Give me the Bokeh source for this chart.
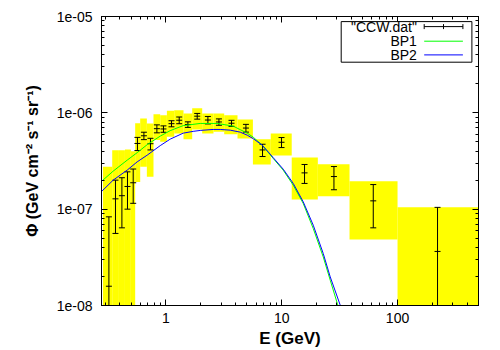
import numpy as np
from bokeh.plotting import figure
from bokeh.models import (LogAxis, LogTicker, CustomJSTickFormatter, Label, Arrow,
                          BoxAnnotation, ColumnDataSource, Range1d)
from bokeh.embed import file_html
from bokeh.resources import INLINE

# ---- data ----
energy = [0.322, 0.367, 0.417, 0.466, 0.522, 0.568, 0.646, 0.736, 0.836, 0.953, 1.118, 1.303,
          1.549, 1.864, 2.305, 2.87, 3.686, 4.909, 6.83, 9.96, 15.74, 28.24, 61.7, 221.5]
flux = [1.585e-8, 1.28e-7, 1.38e-7, 1.72e-7, 1.88e-7, 4.81e-7, 5.78e-7, 4.78e-7, 6.85e-7, 6.8e-7,
        7.72e-7, 8.38e-7, 7.56e-7, 9.23e-7, 8.42e-7, 8.04e-7, 7.8e-7, 6.95e-7, 4.12e-7, 4.95e-7,
        2.38e-7, 2.18e-7, 1.22e-7, 3.64e-8]
flux_err = [6.74e-8, 7.2e-8, 7.4e-8, 7.2e-8, 7.3e-8, 7.5e-8, 5.1e-8, 6.6e-8, 6.5e-8, 5.2e-8,
            5.6e-8, 6.7e-8, 5.0e-8, 6.3e-8, 7.5e-8, 6.1e-8, 5.6e-8, 6.4e-8, 6.0e-8, 5.9e-8,
            5.3e-8, 5.9e-8, 5.8e-8, 6.8e-8]
bin_lo = [0.286, 0.344, 0.393, 0.443, 0.4985, 0.543, 0.600, 0.685, 0.7815, 0.893, 1.02, 1.18,
          1.419, 1.687, 2.058, 2.576, 3.187, 4.153, 5.64, 8.04, 12.2, 20.5, 38.5, 100]
bin_hi = [0.344, 0.393, 0.443, 0.4985, 0.543, 0.600, 0.685, 0.7815, 0.893, 1.02, 1.18, 1.419,
          1.687, 2.058, 2.576, 3.187, 4.153, 5.64, 8.04, 12.2, 20.5, 38.5, 100, 500]
sys_lo = [1e-9, 1e-9, 1e-9, 1e-9, 1e-9, 1.92e-7, 2.75e-7, 2.165e-7, 5.21e-7, 5.00e-7, 5.63e-7,
          6.11e-7, 5.33e-7, 6.72e-7, 6.11e-7, 6.35e-7, 6.01e-7, 5.40e-7, 2.90e-7, 3.61e-7,
          1.261e-7, 1.365e-7, 4.84e-8, 1e-9]
sys_hi = [2.75e-7, 4.10e-7, 4.10e-7, 4.17e-7, 4.0e-7, 7.8e-7, 8.74e-7, 7.76e-7, 9.69e-7, 9.46e-7,
          1.049e-6, 1.066e-6, 9.86e-7, 1.119e-6, 9.86e-7, 9.86e-7, 9.46e-7, 8.54e-7, 5.33e-7,
          6.11e-7, 3.44e-7, 2.93e-7, 1.953e-7, 1.049e-7]

bp1_E = [0.2762, 0.3506, 0.4632, 0.5651, 0.6895, 0.893, 1.089, 1.411, 1.978, 2.773, 3.813, 4.381,
         5.036, 5.674, 6.785, 8.445, 10.30, 12.57, 15.34, 18.71, 22.82, 26.23, 30.16, 33.3]
bp1_flux = [1.930e-7, 2.481e-7, 3.227e-7, 3.861e-7, 4.674e-7, 5.728e-7, 6.533e-7, 7.364e-7,
            7.761e-7, 7.761e-7, 7.276e-7, 6.690e-7, 6.154e-7, 5.593e-7, 4.618e-7, 3.361e-7,
            2.541e-7, 1.775e-7, 1.146e-7, 6.302e-8, 3.197e-8, 1.831e-8, 1.056e-8, 7.04e-9]
bp2_E = [0.2762, 0.3506, 0.4632, 0.5651, 0.6895, 0.893, 1.089, 1.411, 1.721, 1.978, 2.561, 2.944,
         3.592, 4.381, 5.036, 5.674, 6.785, 7.956, 8.445, 10.30, 12.57, 15.34, 18.71, 22.82,
         26.23, 32.01, 35.35]
bp2_flux = [1.512e-7, 2.000e-7, 2.541e-7, 3.099e-7, 3.637e-7, 4.564e-7, 5.331e-7, 6.154e-7,
            6.424e-7, 6.564e-7, 6.723e-7, 6.723e-7, 6.612e-7, 6.302e-7, 5.867e-7, 5.396e-7,
            4.618e-7, 3.725e-7, 3.425e-7, 2.602e-7, 1.849e-7, 1.191e-7, 6.822e-8, 3.467e-8,
            1.982e-8, 1.007e-8, 7.04e-9]

legend_labels = ['"CCW.dat"', "BP1", "BP2"]
x_label = "E (GeV)"
y_label = "\u03a6 (GeV cm\u207b\u00b2 s\u207b\u00b9 sr\u207b\u00b9)"

# ---- figure ----
FONT = "Liberation Sans"
p = figure(width=500, height=350, x_axis_type="log", y_axis_type="log",
           x_range=Range1d(0.278, 500), y_range=Range1d(1e-8, 1e-5),
           output_backend="svg", toolbar_location=None,
           min_border_left=101, min_border_right=22, min_border_top=16, min_border_bottom=45)
p.xgrid.visible = False
p.ygrid.visible = False
p.outline_line_color = "black"
p.outline_line_width = 1
p.background_fill_color = "white"

# systematic boxes
box_src = ColumnDataSource(dict(l=bin_lo, r=bin_hi, b=sys_lo, t=sys_hi))
p.quad(left="l", right="r", bottom="b", top="t", source=box_src,
       fill_color="#ffff00", line_color=None)

# error bars
f = np.array(flux)
e = np.array(flux_err)
lo = np.where(f - e > 0, f - e, 1e-12)
hi = f + e
eb = ColumnDataSource(dict(x=energy, y=flux, lo=lo, hi=hi))
p.segment(x0="x", y0="lo", x1="x", y1="hi", source=eb, line_color="black", line_width=1)
for col in ("lo", "hi", "y"):
    p.scatter(x="x", y=col, source=eb, marker="dash", size=6, line_color="black", line_width=1)

# model curves
p.line(bp1_E, bp1_flux, line_color="#00ff00", line_width=1)
p.line(bp2_E, bp2_flux, line_color="#0000ff", line_width=1)

# ---- axes ----
xt = LogTicker(num_minor_ticks=10)
yt = LogTicker(num_minor_ticks=10)
yfmt = CustomJSTickFormatter(code="""
const e = Math.round(Math.log10(tick));
const a = Math.abs(e);
return '1e' + (e < 0 ? '-' : '+') + (a < 10 ? '0' + a : '' + a);
""")
xfmt = CustomJSTickFormatter(code="return String(Math.round(tick*1000)/1000);")
blank = CustomJSTickFormatter(code="return '';")

def style(ax):
    ax.major_tick_in = 6
    ax.major_tick_out = 0
    ax.minor_tick_in = 3
    ax.minor_tick_out = 0
    ax.axis_line_color = "black"
    ax.major_tick_line_color = "black"
    ax.minor_tick_line_color = "black"
    ax.major_label_text_font = FONT
    ax.major_label_text_font_size = "14px"
    ax.major_label_text_color = "black"
    ax.axis_label_text_font = FONT
    ax.axis_label_text_font_style = "bold"
    ax.axis_label_text_color = "black"

xa = p.xaxis[0]
xa.ticker = xt
xa.formatter = xfmt
style(xa)
xa.major_label_standoff = 7
xa.axis_label = x_label
xa.axis_label_text_font_size = "17px"
xa.axis_label_standoff = 3

ya = p.yaxis[0]
ya.ticker = yt
ya.formatter = yfmt
style(ya)
ya.major_label_standoff = 9
ya.axis_label = y_label
ya.axis_label_text_font_size = "16px"
ya.axis_label_standoff = 13

top = LogAxis(ticker=xt, formatter=blank)
style(top)
top.major_label_text_font_size = "0px"
top.major_label_standoff = 0
p.add_layout(top, "above")
right = LogAxis(ticker=yt, formatter=blank)
style(right)
right.major_label_text_font_size = "0px"
right.major_label_standoff = 0
p.add_layout(right, "right")

# ---- legend (drawn by hand, gnuplot style) ----
p.add_layout(BoxAnnotation(left=239.7, right=370.4, bottom=243.3, top=283.9,
                           left_units="screen", right_units="screen",
                           bottom_units="screen", top_units="screen",
                           fill_color="white", fill_alpha=1.0,
                           line_color="black", line_width=1, line_alpha=1.0))
rows = [278.9, 264.3, 250.6]
for lab, yy in zip(legend_labels, rows):
    p.add_layout(Label(x=315.4, y=yy, x_units="screen", y_units="screen", text=lab,
                       text_align="right", text_baseline="middle",
                       text_font=FONT, text_font_size="14px", text_color="black"))
cols = ["black", "#00ff00", "#0000ff"]
for c, yy in zip(cols, rows):
    p.add_layout(Arrow(start=None, end=None, x_start=322.7, y_start=yy, x_end=361.4, y_end=yy,
                       start_units="screen", end_units="screen", line_color=c, line_width=1))
for xx in (322.7, 342.0, 361.4):
    p.add_layout(Arrow(start=None, end=None, x_start=xx, y_start=rows[0] - 2.5, x_end=xx,
                       y_end=rows[0] + 2.5, start_units="screen", end_units="screen",
                       line_color="black", line_width=1))

open("out.html", "w").write(file_html(p, INLINE))
